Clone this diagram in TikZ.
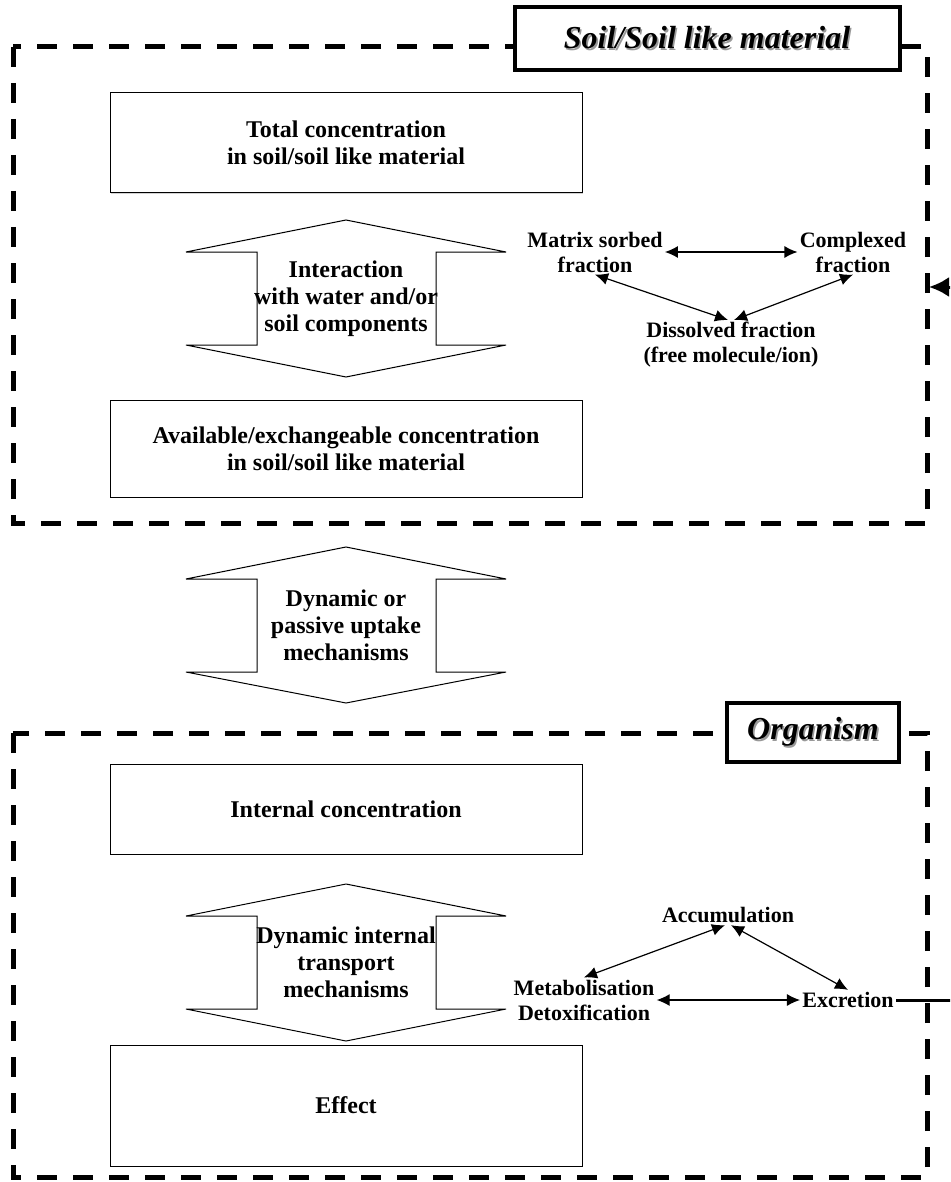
\documentclass[tikz,border=0pt]{standalone}
\usepackage{fontspec}
\setmainfont{Liberation Serif}
\usetikzlibrary{arrows.meta,shadows}

\newcommand\shadowed[1]{\rlap{\kern0.8pt\raisebox{-0.8pt}{\color{black!40}#1}}#1}

\tikzset{
  region/.style={line width=2.5pt,dash pattern=on 10pt off 8pt},
  titlebox/.style={draw,line width=2pt,fill=white,inner sep=0pt,
    font=\bfseries\itshape\fontsize{16}{19}\selectfont},
  concbox/.style={draw,line width=0.5pt,fill=white,minimum width=236pt,align=center,
    drop shadow={shadow xshift=0.6pt,shadow yshift=-0.6pt,fill=black!35},
    font=\bfseries\fontsize{12}{13.5}\selectfont},
  bigarrow/.style={draw,line width=0.5pt,fill=white},
  arrowtext/.style={align=center,inner sep=0pt,font=\bfseries\fontsize{12}{13.5}\selectfont},
  fractext/.style={align=center,inner sep=1pt,font=\bfseries\fontsize{11}{12.5}\selectfont},
  link/.style={line width=0.6pt,<->},
  feedback/.style={line width=1.5pt,-{Latex[length=10pt,width=10pt]}}
}

\begin{document}
\begin{tikzpicture}[x=0.5pt,y=-0.5pt,>={Latex[length=6.5pt,width=6pt]}]
\useasboundingbox (0,0) rectangle (950,1182);
\clip (0,0) rectangle (950,1182);

% Soil/Soil like material
\draw[region] (13,47) rectangle (927,523);
\node[titlebox,minimum width=192.5pt,minimum height=31.5pt] (soiltitle) at (707,38.5) {\shadowed{Soil/Soil like material}};
\coordinate (soilin) at (929,287);

\node[concbox,minimum height=50pt] (total) at (346,143) {Total concentration\\in soil/soil like material};
\draw[bigarrow] (346,220) -- (506,252) -- (436,252) -- (436,345) -- (506,345) -- (346,377)
  -- (186,345) -- (257,345) -- (257,252) -- (186,252) -- cycle;
\node[arrowtext] (interaction) at (346,299) {Interaction\\with water and/or\\soil components};
\node[concbox,minimum height=48.5pt] (avail) at (346,448.5) {Available/exchangeable concentration\\in soil/soil like material};

% Fractions
\node[fractext] (matrix) at (595,252) {Matrix sorbed\\fraction};
\node[fractext] (complexed) at (853,252) {Complexed\\fraction};
\node[fractext] (dissolved) at (731,345) {Dissolved fraction\\(free molecule/ion)};
\draw[link] (matrix) -- (complexed);
\draw[link] (matrix.south) -- ([xshift=-1.5pt]dissolved.north);
\draw[link] (complexed.south) -- ([xshift=1.5pt]dissolved.north);

% Uptake
\draw[bigarrow] (346,547) -- (506,579) -- (436,579) -- (436,672) -- (506,672) -- (346,703)
  -- (186,672) -- (257,672) -- (257,579) -- (186,579) -- cycle;
\node[arrowtext] (uptake) at (346,625) {Dynamic or\\passive uptake\\mechanisms};

% Organism
\draw[region] (13,733) rectangle (927,1177);
\node[titlebox,minimum width=86pt,minimum height=29.5pt] (orgtitle) at (813,732.5) {\shadowed{Organism}};

\node[concbox,minimum height=45pt] (internal) at (346,809) {Internal concentration};
\draw[bigarrow] (346,884) -- (506,916) -- (436,916) -- (436,1009) -- (506,1009) -- (346,1041)
  -- (186,1009) -- (257,1009) -- (257,916) -- (186,916) -- cycle;
\node[arrowtext] (transport) at (346,962) {Dynamic internal\\transport\\mechanisms};
\node[concbox,minimum height=60.5pt] (effect) at (346,1105.5) {Effect};

% Fate in organism
\node[fractext] (accum) at (728,915) {Accumulation};
\node[fractext] (metab) at (584,1000) {Metabolisation\\Detoxification};
\node[fractext] (excretion) at (848,1000) {Excretion};
\draw[link] ([xshift=-1.5pt]accum.south) -- (metab.north);
\draw[link] ([xshift=1.5pt]accum.south) -- (excretion.north);
\draw[link] (metab) -- (excretion);

% Back to soil
\draw[feedback] (excretion.east) -- ++(70,0) |- (soilin);
\end{tikzpicture}
\end{document}
